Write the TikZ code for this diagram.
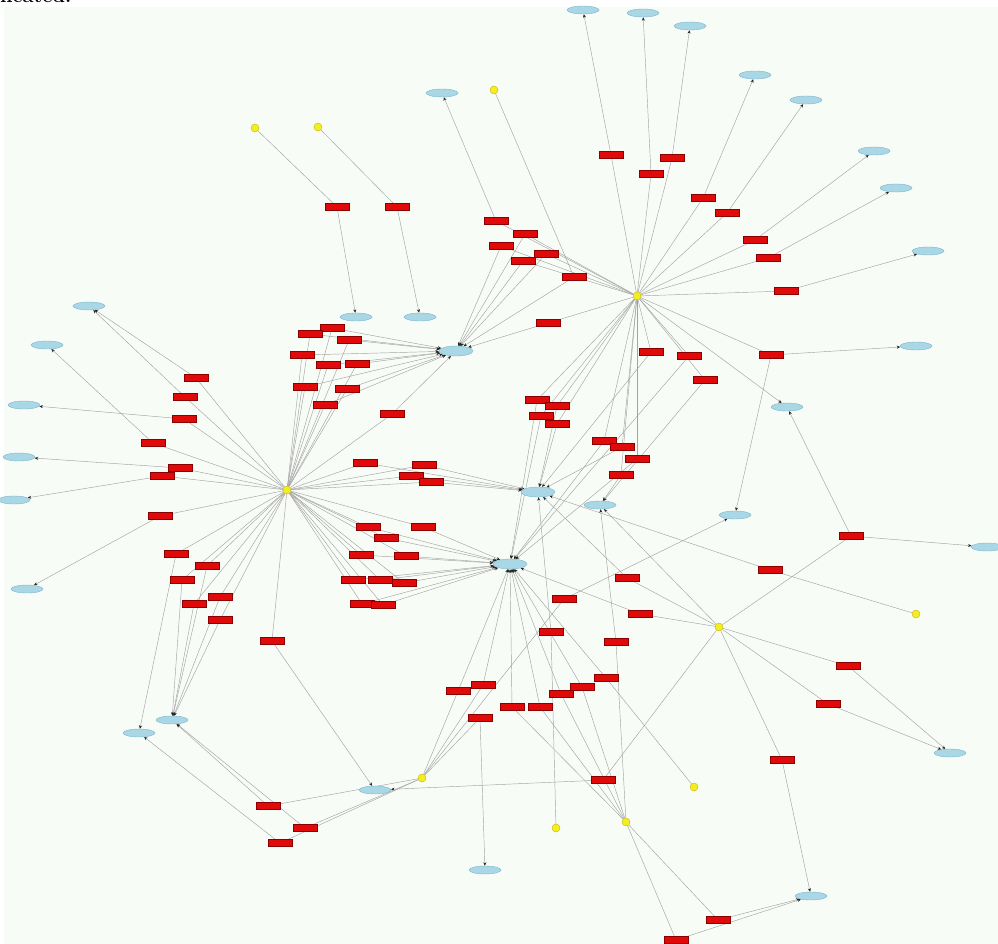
\documentclass[tikz,border=0pt]{standalone}
\usetikzlibrary{shapes.geometric,arrows.meta}
\definecolor{bgc}{HTML}{F8FCF7}
\definecolor{redf}{HTML}{E00A0A}
\definecolor{redd}{HTML}{8A0000}
\definecolor{bluf}{HTML}{A9D7E6}
\definecolor{blud}{HTML}{7DB5CC}
\definecolor{yelf}{HTML}{F2EE22}
\definecolor{yeld}{HTML}{C8B400}
\definecolor{edg}{HTML}{A4A4A4}
\pgfdeclarelayer{back}
\pgfdeclarelayer{edges}
\pgfsetlayers{back,edges,main}
\tikzset{
 yel/.style={circle,fill=yelf,draw=yeld,line width=0.4pt,minimum size=8pt,inner sep=0pt},
 blu/.style={ellipse,fill=bluf,draw=blud,line width=0.4pt,minimum width=32pt,minimum height=8pt,inner sep=0pt},
 hub/.style={blu,minimum width=34pt,minimum height=10pt},
 rbox/.style={rectangle,fill=redf,draw=redd,line width=0.4pt,minimum width=24pt,minimum height=7pt,inner sep=0pt},
 edge/.style={draw=edg,line width=0.45pt},
 arr/.style={edge,-{Stealth[length=3.5pt,width=3pt,color=black!85]}},
}
\begin{document}
\begin{tikzpicture}[x=1pt,y=-1pt]
\useasboundingbox (0,0) rectangle (998,944);
\begin{pgfonlayer}{back}
\fill[white] (0,0) rectangle (998,944);
\fill[bgc] (4,7) rectangle (998,944);
\end{pgfonlayer}
\begin{scope}
\clip (0,0) rectangle (998,944);
\node[anchor=base west,font=\bfseries\fontsize{20}{20}\selectfont,inner sep=0pt] (cap) at (0,3) {ncated.};
\end{scope}
% yellow
\node[yel] (Y1) at (255,128) {};
\node[yel] (Y2) at (318,127) {};
\node[yel] (Y3) at (494,90) {};
\node[yel] (Y4) at (637,296) {};
\node[yel] (Y5) at (287,490) {};
\node[yel] (Y6) at (719,627) {};
\node[yel] (Y7) at (916,614) {};
\node[yel] (Y8) at (422,778) {};
\node[yel] (Y9) at (694,787) {};
\node[yel] (Y10) at (556,828) {};
\node[yel] (Y11) at (626,822) {};
% blue
\node[blu] (B1) at (583,10) {};
\node[blu] (B2) at (643,13) {};
\node[blu] (B3) at (690,26) {};
\node[blu] (B4) at (755,75) {};
\node[blu] (B5) at (806,100) {};
\node[blu] (B6) at (442,93) {};
\node[blu] (B7) at (874,151) {};
\node[blu] (B8) at (896,188) {};
\node[blu] (B9) at (928,251) {};
\node[blu] (B10) at (356,317) {};
\node[blu] (B11) at (420,317) {};
\node[blu] (B12) at (89,306) {};
\node[blu] (B13) at (47,345) {};
\node[blu] (B14) at (24,405) {};
\node[blu] (B15) at (19,457) {};
\node[blu] (B16) at (14,500) {};
\node[blu] (B17) at (27,589) {};
\node[hub] (B18) at (456,351) {};
\node[hub] (B19) at (538,492) {};
\node[hub] (B20) at (510,564) {};
\node[blu] (B21) at (916,346) {};
\node[blu] (B22) at (787,407) {};
\node[blu] (B23) at (600,505) {};
\node[blu] (B24) at (735,515) {};
\node[blu] (B25) at (987,547) {};
\node[blu] (B26) at (172,720) {};
\node[blu] (B27) at (139,733) {};
\node[blu] (B28) at (375,790) {};
\node[blu] (B29) at (485,870) {};
\node[blu] (B30) at (950,753) {};
\node[blu] (B31) at (811,896) {};
% red
\foreach \n/\x/\y in {
 r1/337/207, r2/397/207, r3/611/155, r4/672/158, r5/651/174, r6/703/198, r7/727/213,
 r8/755/240, r9/768/258, r10/786/291, r11/496/221, r12/525/234, r13/501/246, r14/546/254,
 r15/523/261, r16/574/277, r17/548/323, r18/332/328, r19/310/334, r20/349/340, r21/302/355,
 r22/328/365, r23/357/364, r24/305/387, r25/347/389, r26/325/405, r27/392/414, r28/196/378,
 r29/185/397, r30/184/419, r31/153/443, r32/180/468, r33/162/476, r34/160/516, r35/365/463,
 r36/424/465, r37/411/476, r38/431/482, r39/423/527, r40/368/527, r41/386/538, r42/361/555,
 r43/406/556, r44/353/580, r45/380/580, r46/404/583, r47/362/604, r48/383/605, r49/176/554,
 r50/207/566, r51/182/580, r52/220/597, r53/194/604, r54/220/620, r55/272/641, r56/537/400,
 r57/557/406, r58/541/416, r59/557/424, r60/651/352, r61/689/356, r62/705/380, r63/604/441,
 r64/622/447, r65/637/459, r66/621/475, r67/771/355, r68/770/570, r69/564/599, r70/851/536,
 r71/627/578, r72/640/614, r73/848/666, r74/828/704, r75/782/760, r76/603/780, r78/483/685,
 r79/458/691, r80/268/806, r81/305/828, r82/280/843, r83/480/718, r84/512/707, r85/561/694,
 r86/582/687, r87/606/678, r88/540/707, r89/551/632, r90/718/920, r91/676/940, r92/616/642}
 {\node[rbox] (\n) at (\x,\y) {};}
\begin{pgfonlayer}{edges}
\foreach \s/\r/\t in {
 Y1/r1/B10, Y2/r2/B11,
 Y4/r3/B1, Y4/r4/B3, Y4/r5/B2, Y4/r6/B4, Y4/r7/B5, Y4/r8/B7, Y4/r9/B8, Y4/r10/B9,
 Y4/r11/B6, Y4/r12/B18, Y4/r13/B18, Y4/r14/B18, Y4/r15/B18, Y3/r16/B18, Y4/r17/B18,
 Y5/r18/B18, Y5/r19/B18, Y5/r20/B18, Y5/r21/B18, Y5/r22/B18, Y5/r23/B18, Y5/r24/B18,
 Y5/r25/B18, Y5/r26/B18, Y5/r27/B18,
 Y5/r28/B12, Y5/r29/B12, Y5/r30/B14, Y5/r31/B13, Y5/r32/B15, Y5/r33/B16, Y5/r34/B17,
 Y5/r35/B19, Y5/r36/B19, Y5/r37/B19, Y5/r38/B19, Y5/r39/B20,
 Y5/r40/B20, Y5/r41/B20, Y5/r42/B20, Y5/r43/B20, Y5/r44/B20, Y5/r45/B20, Y5/r46/B20,
 Y5/r47/B20, Y5/r48/B20,
 Y5/r49/B27, Y5/r50/B26, Y5/r51/B26, Y5/r52/B26, Y5/r53/B26, Y5/r54/B26, Y5/r55/B28,
 Y4/r56/B20, Y4/r57/B19, Y4/r58/B20, Y4/r59/B19,
 Y4/r60/B19, Y4/r61/B20, Y4/r62/B23,
 Y4/r63/B20, Y4/r64/B19, Y4/r65/B20, Y4/r66/B23,
 Y4/r67/B21, Y6/r70/B22,
 Y6/r71/B19, Y6/r72/B20, Y6/r73/B30, Y6/r74/B30, Y6/r75/B31, Y6/r76/B28,
 Y7/r68/B19,
 Y8/r69/B24, Y8/r78/B20, Y8/r79/B20, Y8/r80/B26, Y8/r81/B26, Y8/r82/B27, Y8/r83/B29,
 Y11/r84/B20, Y11/r85/B20, Y11/r86/B20, Y9/r87/B20, Y11/r88/B20, Y10/r89/B19,
 Y11/r90/B31, Y11/r91/B31, Y11/r92/B23}
 {\draw[edge] (\s) -- (\r); \draw[arr] (\r) -- (\t);}
\draw[arr] (r67) -- (B24);
\draw[arr] (r70) -- (B25);
\draw[arr] (Y4) -- (B22);
\draw[arr] (Y6) -- (B23);
\end{pgfonlayer}
\end{tikzpicture}
\end{document}
